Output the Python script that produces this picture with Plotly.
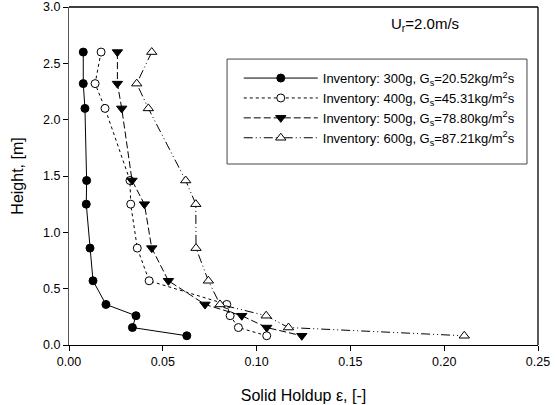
import plotly.graph_objects as go

height = [2.60, 2.32, 2.10, 1.46, 1.25, 0.86, 0.57, 0.36, 0.26, 0.155, 0.082]

holdup_300 = [0.0076, 0.0076, 0.0085, 0.0094, 0.0092, 0.0112, 0.0128, 0.0197, 0.0357, 0.0338, 0.0628]
holdup_400 = [0.0171, 0.0139, 0.0192, 0.0325, 0.0329, 0.0364, 0.0427, 0.0841, 0.0859, 0.0903, 0.1054]
holdup_500 = [0.0258, 0.0258, 0.0281, 0.0336, 0.0402, 0.0441, 0.0530, 0.0725, 0.0921, 0.1054, 0.1241]
holdup_600 = [0.0441, 0.0361, 0.0423, 0.0622, 0.0676, 0.0677, 0.0743, 0.0805, 0.1051, 0.1170, 0.2107]

names = [
    "Inventory: 300g, G<sub>s</sub>=20.52kg/m<sup>2</sup>s",
    "Inventory: 400g, G<sub>s</sub>=45.31kg/m<sup>2</sup>s",
    "Inventory: 500g, G<sub>s</sub>=78.80kg/m<sup>2</sup>s",
    "Inventory: 600g, G<sub>s</sub>=87.21kg/m<sup>2</sup>s",
]

x_ticks = [0.00, 0.05, 0.10, 0.15, 0.20, 0.25]
y_ticks = [0.0, 0.5, 1.0, 1.5, 2.0, 2.5, 3.0]

FONT = "Liberation Sans, Arial, sans-serif"

styles = [
    dict(dash="solid", symbol="circle", fill="black", size=8),
    dict(dash="dot", symbol="circle", fill="white", size=8),
    dict(dash="7px,3px", symbol="triangle-down", fill="black", size=9),
    dict(dash="9px,3px,1px,3px,1px,3px", symbol="triangle-up", fill="white", size=9),
]

fig = go.Figure()
for xs, nm, st in zip([holdup_300, holdup_400, holdup_500, holdup_600], names, styles):
    fig.add_trace(go.Scatter(
        x=xs, y=height, name=nm, mode="lines+markers",
        line=dict(color="black", width=1, dash=st["dash"]),
        marker=dict(symbol=st["symbol"], size=st["size"], color=st["fill"],
                    line=dict(color="black", width=1)),
    ))

fig.update_layout(
    width=555, height=405,
    margin=dict(l=69, r=17, t=7, b=60, autoexpand=False),
    paper_bgcolor="white", plot_bgcolor="white",
    font=dict(family=FONT, size=12.5, color="black"),
    showlegend=True,
    legend=dict(
        x=0.362, y=0.834, xanchor="left", yanchor="top",
        borderwidth=0, bgcolor="rgba(0,0,0,0)",
        font=dict(family=FONT, size=13, color="black"),
        itemwidth=74, tracegroupgap=0,
    ),
    xaxis=dict(
        range=[0, 0.25], tickvals=x_ticks, tickformat=".2f", automargin=False,
        showgrid=False, zeroline=False, showline=True, linecolor="black", linewidth=1,
        ticks="outside", ticklen=5, tickcolor="black",
        tickfont=dict(size=12.5),
        title=dict(text="Solid Holdup ε, [-]", font=dict(size=16), standoff=21),
    ),
    yaxis=dict(
        range=[0, 3], tickvals=y_ticks, tickformat=".1f", automargin=False,
        showgrid=False, zeroline=False, showline=True, linecolor="#555", linewidth=1,
        ticks="outside", ticklen=5, tickcolor="black",
        tickfont=dict(size=12.5),
        title=dict(text="Height, [m]", font=dict(size=16), standoff=15),
    ),
    shapes=[
        dict(type="line", xref="paper", yref="paper", x0=0, x1=1, y0=1, y1=1,
             line=dict(color="black", width=1.3)),
        dict(type="line", xref="paper", yref="paper", x0=1, x1=1, y0=0, y1=1,
             line=dict(color="black", width=1.3)),
        dict(type="rect", xref="paper", yref="paper", x0=0.337, x1=0.9765, y0=0.5355, y1=0.846,
             line=dict(color="#444", width=1), fillcolor="white", layer="below"),
    ],
    annotations=[
        dict(text="U<sub>r</sub>=2.0m/s", xref="paper", yref="paper",
             x=0.76, y=0.947, xanchor="center", yanchor="middle",
             showarrow=False, font=dict(family=FONT, size=15, color="black")),
    ],
)

fig.write_html("out.html", config={"displayModeBar": False},
               post_script="document.body.style.margin='0';")
